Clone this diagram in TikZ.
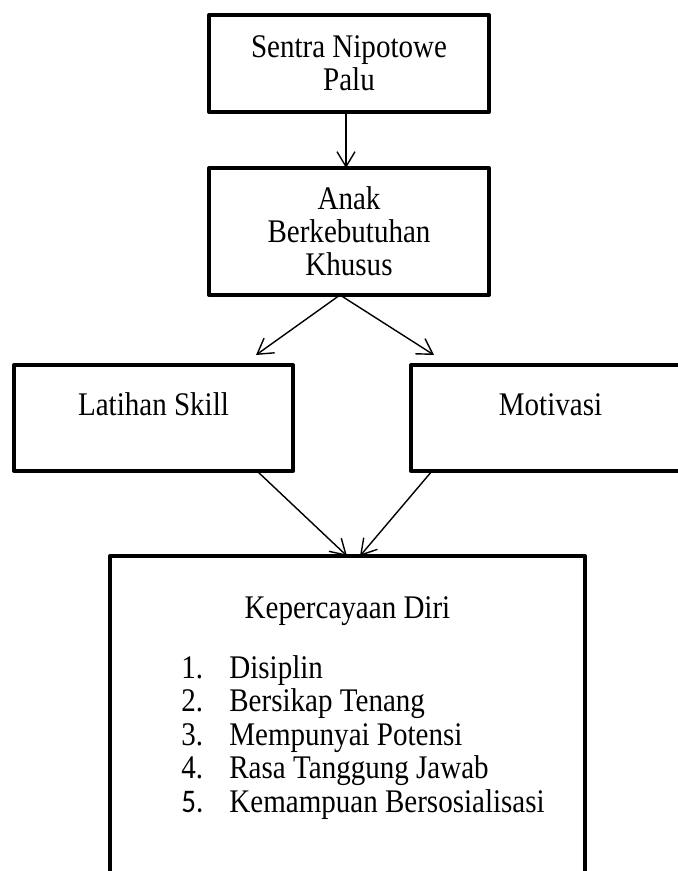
\documentclass[tikz,border=0pt]{standalone}
\usepackage{fontspec}
\setmainfont{Liberation Serif}[FakeStretch=0.88]
\newfontfamily\calibrifont{Carlito}[FakeStretch=0.88]
\usepackage{tikz}
\usetikzlibrary{positioning, arrows.meta}

\begin{document}
\begin{tikzpicture}[font=\fontsize{16.5pt}{16.5pt}\selectfont,
    boxnode/.style={draw, line width=2pt, line join=round,
        outer sep=0pt, minimum width=140pt, align=center},
    arr/.style={-{Straight Barb[length=7.5pt,width=9pt]}, line width=0.7pt}]
    % page size, the lower boxes run past the edge
    \useasboundingbox (0,0) rectangle (339pt,-435.5pt);
    \clip (0,0) rectangle (339pt,-435.5pt);
    % Add the boxes
        \node[boxnode,
              minimum height=48.5pt
              ] (sentra) at (174.5pt,-31.75pt) {Sentra Nipotowe\\Palu};
        \node[boxnode,
              below=28pt of sentra,
              minimum height=63.5pt
              ] (abk) {Anak\\Berkebutuhan\\Khusus};
        \node[boxnode,
              below=35pt of abk, xshift=-97.75pt,
              minimum width=139.5pt,
              inner ysep=0pt, text height=25pt, text depth=28pt
              ] (latihan) {Latihan Skill};
        \node[boxnode,
              right=59pt of latihan,
              minimum width=139.5pt,
              inner ysep=0pt, text height=25pt, text depth=28pt
              ] (motivasi) {Motivasi};
        \node[boxnode,
              below=130.5pt of abk, xshift=-0.75pt,
              minimum width=237.5pt,
              inner ysep=0pt, text height=31pt, text depth=141pt
              ] (kd) {Kepercayaan Diri};
        \node[anchor=base west,
              inner sep=0pt,
              font=\fontsize{16.5pt}{16.75pt}\selectfont
              ] (kdlist) at ([xshift=35.5pt,yshift=-61pt]kd.north west)
              {\begin{tabular}[t]{@{}p{24pt}@{}l@{}}
               1. & Disiplin\\
               2. & Bersikap Tenang\\
               3. & Mempunyai Potensi\\
               4. & Rasa Tanggung Jawab\\
               {\calibrifont 5.} & Kemampuan Bersosialisasi
               \end{tabular}};

       \path[arr]
			([xshift=-1.5pt]sentra.south) edge ([xshift=-1.5pt]abk.north)
			([xshift=-4.5pt]abk.south) edge ([xshift=-18.5pt,yshift=5pt]latihan.north east)
			([xshift=-4.5pt]abk.south) edge ([xshift=11.5pt,yshift=5pt]motivasi.north west)
			([xshift=-18pt]latihan.south east) edge ([xshift=-0.25pt]kd.north)
			([xshift=10.5pt]motivasi.south west) edge ([xshift=6.25pt]kd.north)
            ;
\end{tikzpicture}
\end{document}
